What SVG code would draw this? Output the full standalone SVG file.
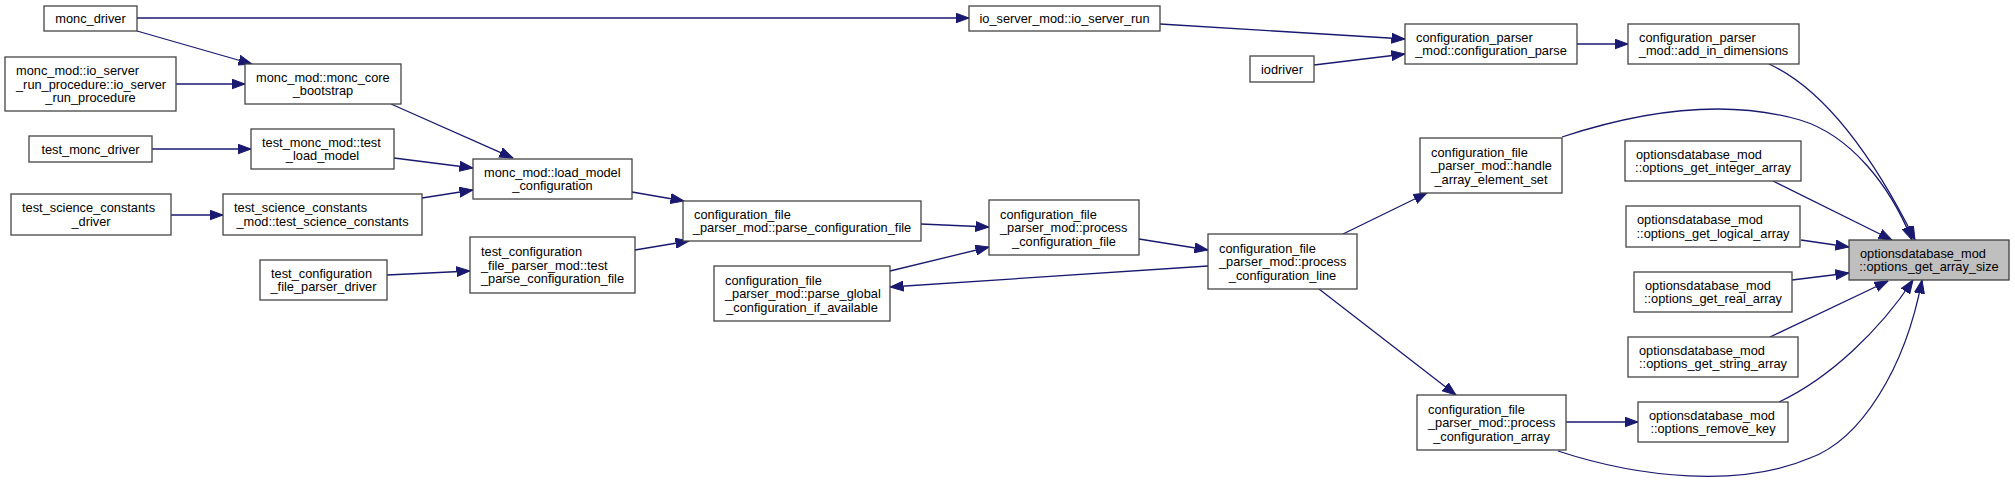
<svg xmlns="http://www.w3.org/2000/svg" width="2015" height="484" viewBox="0 0 2015 484">
<style>
.n rect{fill:#ffffff;stroke:#444444;stroke-width:1.3}
.n.hl rect{fill:#bfbfbf;stroke:#404040}
text{font-family:"Liberation Sans",Arial,Helvetica,sans-serif;font-size:12.8px;fill:#000}
.s{text-anchor:start}
.m{text-anchor:middle}
#edges path{fill:none;stroke:#191970;stroke-width:1.3;marker-end:url(#arr)}
</style>
<defs>
<marker id="arr" markerUnits="userSpaceOnUse" markerWidth="14" markerHeight="11" viewBox="0 0 14 11" refX="13.5" refY="5.5" orient="auto">
<path d="M0,0.5 L13.5,5.5 L0,10.5 z" fill="#191970" stroke="#191970" stroke-width="1"/>
</marker>
</defs>
<rect width="2015" height="484" fill="#ffffff"/>
<g id="edges">
<path d="M137,18 L969,18"/>
<path d="M137,31 L252,64"/>
<path d="M176,84 L245,84"/>
<path d="M391,104 L513,158"/>
<path d="M152,149 L251,149"/>
<path d="M394,158 L473,168"/>
<path d="M171,215 L223,215"/>
<path d="M422,198 L473,190"/>
<path d="M387,275 L470,271"/>
<path d="M632,192 L684,201"/>
<path d="M635,250 L689,241"/>
<path d="M921,224 L989,227"/>
<path d="M890,271 L989,247"/>
<path d="M1208,266 L890,287"/>
<path d="M1139,239 L1208,250"/>
<path d="M1160,24 L1405,39"/>
<path d="M1314,65 L1405,54"/>
<path d="M1577,44 L1628,44"/>
<path d="M1343,234 L1427,193"/>
<path d="M1319,289 L1456,395"/>
<path d="M1566,422 L1638,422"/>
<path d="M1769,64 C1830,92 1880,170 1915,240"/>
<path d="M1562,137 C1650,108 1730,100 1800,120 C1850,135 1890,185 1912,240"/>
<path d="M1773,181 L1892,240"/>
<path d="M1801,240 L1849,247"/>
<path d="M1792,280 L1849,273"/>
<path d="M1770,337 L1888,281"/>
<path d="M1779,402 C1830,378 1880,330 1913,280"/>
<path d="M1558,451 C1640,478 1740,488 1810,458 C1860,440 1905,370 1922,280"/>
</g>
<g id="n1" class="n"><rect x="44" y="6" width="93" height="25"/><text class="m" x="90.5" y="23">monc_driver</text></g>
<g id="n2" class="n"><rect x="5" y="57" width="171" height="54"/><text class="s" x="16" y="75">monc_mod::io_server</text><text class="s" x="16" y="88.5">_run_procedure::io_server</text><text class="m" x="90.5" y="102">_run_procedure</text></g>
<g id="n3" class="n"><rect x="245" y="64" width="156" height="40"/><text class="s" x="256" y="81.75">monc_mod::monc_core</text><text class="m" x="323" y="95.25">_bootstrap</text></g>
<g id="n4" class="n"><rect x="29" y="136" width="123" height="26"/><text class="m" x="90.5" y="153.5">test_monc_driver</text></g>
<g id="n5" class="n"><rect x="251" y="129" width="143" height="40"/><text class="s" x="262" y="146.75">test_monc_mod::test</text><text class="m" x="322.5" y="160.25">_load_model</text></g>
<g id="n6" class="n"><rect x="473" y="159" width="159" height="40"/><text class="s" x="484" y="176.75">monc_mod::load_model</text><text class="m" x="552.5" y="190.25">_configuration</text></g>
<g id="n7" class="n"><rect x="11" y="194" width="160" height="41"/><text class="s" x="22" y="212.25">test_science_constants</text><text class="m" x="91" y="225.75">_driver</text></g>
<g id="n8" class="n"><rect x="223" y="194" width="199" height="41"/><text class="s" x="234" y="212.25">test_science_constants</text><text class="m" x="322.5" y="225.75">_mod::test_science_constants</text></g>
<g id="n9" class="n"><rect x="470" y="237" width="165" height="56"/><text class="s" x="481" y="256">test_configuration</text><text class="s" x="481" y="269.5">_file_parser_mod::test</text><text class="m" x="552.5" y="283">_parse_configuration_file</text></g>
<g id="n10" class="n"><rect x="260" y="260" width="127" height="40"/><text class="s" x="271" y="277.75">test_configuration</text><text class="m" x="323.5" y="291.25">_file_parser_driver</text></g>
<g id="n11" class="n"><rect x="969" y="6" width="191" height="25"/><text class="m" x="1064.5" y="23">io_server_mod::io_server_run</text></g>
<g id="n12" class="n"><rect x="683" y="201" width="238" height="40"/><text class="s" x="694" y="218.75">configuration_file</text><text class="m" x="802" y="232.25">_parser_mod::parse_configuration_file</text></g>
<g id="n13" class="n"><rect x="989" y="200" width="150" height="55"/><text class="s" x="1000" y="218.5">configuration_file</text><text class="s" x="1000" y="232">_parser_mod::process</text><text class="m" x="1064" y="245.5">_configuration_file</text></g>
<g id="n14" class="n"><rect x="714" y="266" width="176" height="55"/><text class="s" x="725" y="284.5">configuration_file</text><text class="s" x="725" y="298">_parser_mod::parse_global</text><text class="m" x="802" y="311.5">_configuration_if_available</text></g>
<g id="n15" class="n"><rect x="1405" y="24" width="172" height="40"/><text class="s" x="1416" y="41.75">configuration_parser</text><text class="m" x="1491" y="55.25">_mod::configuration_parse</text></g>
<g id="n16" class="n"><rect x="1250" y="56" width="64" height="26"/><text class="m" x="1282" y="73.5">iodriver</text></g>
<g id="n17" class="n"><rect x="1420" y="138" width="142" height="55"/><text class="s" x="1431" y="156.5">configuration_file</text><text class="s" x="1431" y="170">_parser_mod::handle</text><text class="m" x="1491" y="183.5">_array_element_set</text></g>
<g id="n18" class="n"><rect x="1208" y="234" width="149" height="55"/><text class="s" x="1219" y="252.5">configuration_file</text><text class="s" x="1219" y="266">_parser_mod::process</text><text class="m" x="1282.5" y="279.5">_configuration_line</text></g>
<g id="n19" class="n"><rect x="1417" y="395" width="149" height="55"/><text class="s" x="1428" y="413.5">configuration_file</text><text class="s" x="1428" y="427">_parser_mod::process</text><text class="m" x="1491.5" y="440.5">_configuration_array</text></g>
<g id="n20" class="n"><rect x="1628" y="24" width="171" height="40"/><text class="s" x="1639" y="41.75">configuration_parser</text><text class="m" x="1713.5" y="55.25">_mod::add_in_dimensions</text></g>
<g id="n21" class="n"><rect x="1625" y="141" width="176" height="40"/><text class="s" x="1636" y="158.75">optionsdatabase_mod</text><text class="m" x="1713" y="172.25">::options_get_integer_array</text></g>
<g id="n22" class="n"><rect x="1626" y="206" width="174" height="41"/><text class="s" x="1637" y="224.25">optionsdatabase_mod</text><text class="m" x="1713" y="237.75">::options_get_logical_array</text></g>
<g id="n23" class="n hl"><rect x="1849" y="240" width="160" height="40"/><text class="s" x="1860" y="257.75">optionsdatabase_mod</text><text class="m" x="1929" y="271.25">::options_get_array_size</text></g>
<g id="n24" class="n"><rect x="1634" y="272" width="158" height="40"/><text class="s" x="1645" y="289.75">optionsdatabase_mod</text><text class="m" x="1713" y="303.25">::options_get_real_array</text></g>
<g id="n25" class="n"><rect x="1628" y="337" width="170" height="40"/><text class="s" x="1639" y="354.75">optionsdatabase_mod</text><text class="m" x="1713" y="368.25">::options_get_string_array</text></g>
<g id="n26" class="n"><rect x="1638" y="402" width="150" height="40"/><text class="s" x="1649" y="419.75">optionsdatabase_mod</text><text class="m" x="1713" y="433.25">::options_remove_key</text></g>
</svg>
